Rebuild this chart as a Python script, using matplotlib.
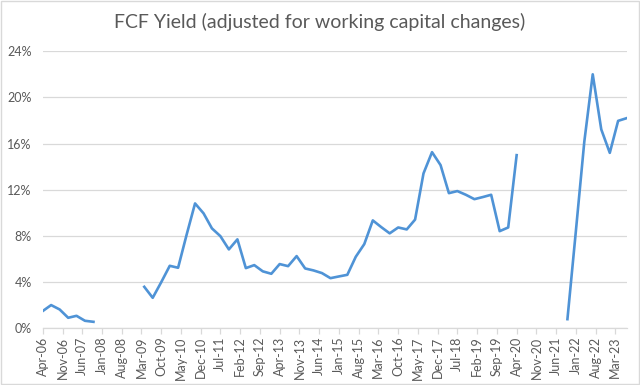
import matplotlib
matplotlib.use("Agg")
import matplotlib.pyplot as plt
import matplotlib.dates as mdates
import numpy as np
import pandas as pd

# quarterly observations, Apr-06 .. Jul-23 (NaN = no data)
start_date = "2006-04-01"
end_date = "2023-07-01"
fcf_yield = [
    1.50, 2.02, 1.64, 0.92, 1.09, 0.66, 0.57,
    np.nan, np.nan, np.nan, np.nan, np.nan,
    3.60, 2.65, 4.00, 5.42, 5.25, 8.08, 10.82, 9.96, 8.66, 7.99,
    6.84, 7.71, 5.22, 5.48, 4.94, 4.73, 5.57, 5.39, 6.26, 5.19,
    5.02, 4.79, 4.35, 4.50, 4.64, 6.20, 7.30, 9.35, 8.77, 8.23,
    8.74, 8.57, 9.42, 13.42, 15.26, 14.14, 11.71, 11.89, 11.57, 11.19,
    11.37, 11.57, 8.42, 8.74, 15.00,
    np.nan, np.nan, np.nan, np.nan, np.nan,
    0.80, 8.50, 16.16, 22.00, 17.23, 15.20, 17.97, 18.20,
]
tick_labels = ["Apr-06", "Nov-06", "Jun-07", "Jan-08", "Aug-08", "Mar-09",
               "Oct-09", "May-10", "Dec-10", "Jul-11", "Feb-12", "Sep-12",
               "Apr-13", "Nov-13", "Jun-14", "Jan-15", "Aug-15", "Mar-16",
               "Oct-16", "May-17", "Dec-17", "Jul-18", "Feb-19", "Sep-19",
               "Apr-20", "Nov-20", "Jun-21", "Jan-22", "Aug-22", "Mar-23"]
y_ticks = [0, 4, 8, 12, 16, 20, 24]
title = "FCF Yield (adjusted for working capital changes)"

dates = pd.date_range(start_date, end_date, freq="3MS")
tick_pos = pd.to_datetime(tick_labels, format="%b-%y")

plt.rcParams['font.family'] = ['Lato', 'DejaVu Sans']
text_col = '#595959'
grid_col = '#d9d9d9'

fig = plt.figure(figsize=(6.4, 3.85), dpi=100)
ax = fig.add_axes([0.0667, 0.147, 0.9123, 0.72])

ax.plot(dates, fcf_yield, color='#4f93d6', lw=1.9, solid_joinstyle='round')

ax.set_xlim(pd.Timestamp(start_date), pd.Timestamp(end_date))
ax.set_ylim(0, 24)
ax.set_yticks(y_ticks)
ax.set_yticklabels([f"{v}%" for v in y_ticks])
ax.set_xticks(tick_pos)
ax.set_xticklabels(tick_labels, rotation=90)

ax.grid(axis='y', color=grid_col, lw=0.9)
ax.set_axisbelow(True)
for s in ['top', 'right', 'left']:
    ax.spines[s].set_visible(False)
ax.spines['bottom'].set_color(grid_col)
ax.spines['bottom'].set_linewidth(0.9)

ax.tick_params(axis='y', length=0, pad=8, labelsize=9, labelcolor=text_col)
ax.tick_params(axis='x', length=4, width=0.9, color=grid_col, pad=2,
               labelsize=9, labelcolor=text_col)

fig.text(0.5, 0.943, title, ha='center', va='center', fontsize=14, color=text_col)

# chart border
fig.patches.append(plt.Rectangle((0.001, 0.002), 0.997, 0.995, transform=fig.transFigure,
                                 fill=False, edgecolor=grid_col, lw=1.0))

fig.savefig("out.png", dpi=100)
